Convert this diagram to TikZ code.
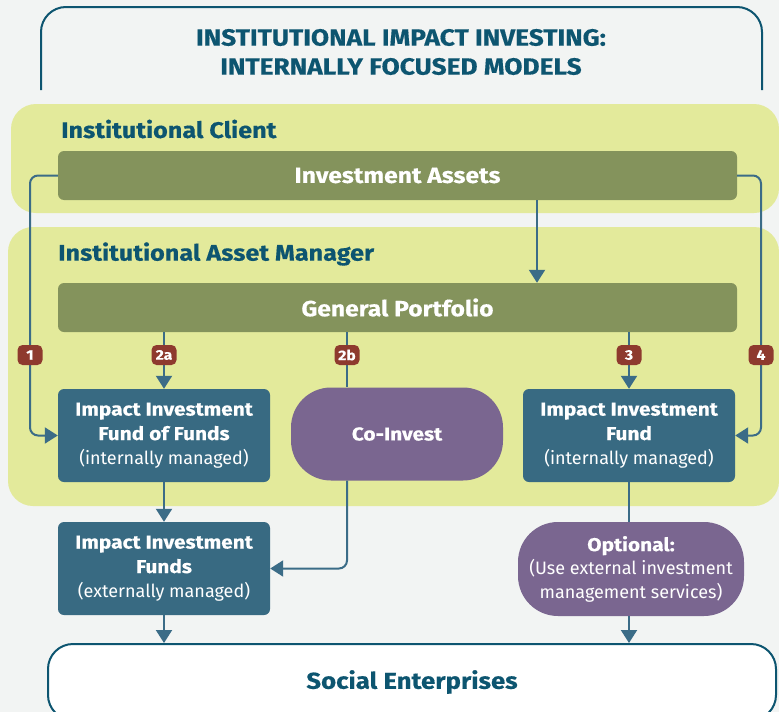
\documentclass[tikz,border=0pt]{standalone}
\usepackage{fontspec}
\setmainfont{Fira Sans}[BoldFeatures={FakeStretch=1.12,FakeBold=0.4}]
\usetikzlibrary{arrows.meta}
\definecolor{bg}{HTML}{F2F4F3}
\definecolor{band}{HTML}{E3EA9B}
\definecolor{olive}{HTML}{84935C}
\definecolor{tealbox}{HTML}{386A82}
\definecolor{dteal}{HTML}{0D5570}
\definecolor{purp}{HTML}{7A6690}
\definecolor{badgec}{HTML}{8E3A2E}
\definecolor{linec}{HTML}{3B6C87}
\newcommand{\bx}[1]{{\bfseries\fontsize{18.6}{24.5}\selectfont #1}}
\begin{document}
\begin{tikzpicture}[x=1pt,y=-1pt,
  fundbox/.style={fill=tealbox, rounded corners=6pt, minimum width=212pt, minimum height=93pt, inner sep=0pt, align=center, text=white, font=\fontsize{18}{24.5}\selectfont},
  bar/.style={fill=olive, rounded corners=6pt, minimum width=679pt, minimum height=49pt, inner sep=0pt, text=white, font=\bfseries\fontsize{22}{24}\selectfont},
  pill/.style={fundbox, fill=purp, rounded corners=40pt},
  badge/.style={fill=badgec, rounded corners=5pt, minimum width=25pt, minimum height=20pt, inner sep=0pt, text=white, font=\bfseries\fontsize{14}{14}\selectfont},
  conn/.style={draw=linec, line width=2pt},
  arr/.style={conn, -{Triangle[width=16pt,length=13pt]}},
  grouplabel/.style={anchor=west, inner sep=0pt, text=dteal, font=\bfseries\fontsize{22.5}{24}\selectfont}
]
\useasboundingbox (0,0) rectangle (779,712);
\fill[bg] (0,0) rectangle (779,712);
\begin{scope}
\clip (0,0) rectangle (779,712);
% title frame
\draw[dteal, line width=2pt, rounded corners=25pt] (41,90) -- (41,7) -- (762,7) -- (762,90);
\node[text=dteal, align=center, font=\bfseries\fontsize{23.5}{29}\selectfont] (title) at (401,52) {INSTITUTIONAL IMPACT INVESTING:\\INTERNALLY FOCUSED MODELS};
% bands
\fill[band, rounded corners=25pt] (11,104) rectangle (779,213);
\fill[band, rounded corners=25pt] (8,227) rectangle (779,506);
\node[grouplabel] (lclient) at (61,129) {Institutional Client};
\node[grouplabel] (lmanager) at (58,254) {Institutional Asset Manager};
% bars
\node[bar] (IA) at (397.5,175.5) {Investment Assets};
\node[bar] (GP) at (397.5,307.5) {General Portfolio};
% boxes
\node[fundbox] (FoF) at (164,435.5) {\bx{Impact Investment}\\\bx{Fund of Funds}\\(internally managed)};
\node[pill] (CoI) at (397,434) {\bx{Co-Invest}};
\node[fundbox] (Fund) at (629,435.5) {\bx{Impact Investment}\\\bx{Fund}\\(internally managed)};
\node[fundbox] (Funds) at (164,568.5) {\bx{Impact Investment}\\\bx{Funds}\\(externally managed)};
\node[pill, minimum width=226pt, minimum height=94pt, font=\fontsize{18}{23.5}\selectfont] (Opt) at (631,569) {\bx{Optional:}\\(Use external investment\\management services)};
\node[draw=dteal, line width=2pt, fill=white, rounded corners=25pt, minimum width=728pt, minimum height=76pt, text=dteal, font=\bfseries\fontsize{23}{24}\selectfont] (SE) at (412,682) {Social Enterprises};
% helper coordinates
\coordinate (xl) at (30,0);
\coordinate (xr) at (761,0);
\coordinate (x2b) at (347,0);
\coordinate (x0) at (537,0);
% connectors
\draw[arr] (IA.south -| x0) -- (GP.north -| x0);
\draw[arr, rounded corners=8pt] (IA.west) -| (xl |- FoF.west) -- (FoF.west);
\draw[arr, rounded corners=8pt] (IA.east) -| (xr |- Fund.east) -- (Fund.east);
\draw[arr] (GP.south -| FoF.north) -- (FoF.north);
\draw[conn] (GP.south -| x2b) -- (CoI.north -| x2b);
\draw[arr, rounded corners=8pt] (CoI.south -| x2b) |- (Funds.east);
\draw[arr] (GP.south -| Fund.north) -- (Fund.north);
\draw[conn] (Fund.south) -- (Fund.south |- Opt.north);
\draw[arr] (Opt.south -| Fund.south) -- (SE.north -| Fund.south);
\draw[arr] (FoF.south) -- (Funds.north);
\draw[arr] (Funds.south) -- (SE.north -| Funds.south);
% badges
\node[badge] (b1) at (xl |- 0,355) {1};
\node[badge] (b2a) at (FoF.north |- 0,355) {2a};
\node[badge] (b2b) at (x2b |- 0,355) {2b};
\node[badge] (b3) at (Fund.north |- 0,355) {3};
\node[badge] (b4) at (xr |- 0,355) {4};
\end{scope}
\end{tikzpicture}
\end{document}
